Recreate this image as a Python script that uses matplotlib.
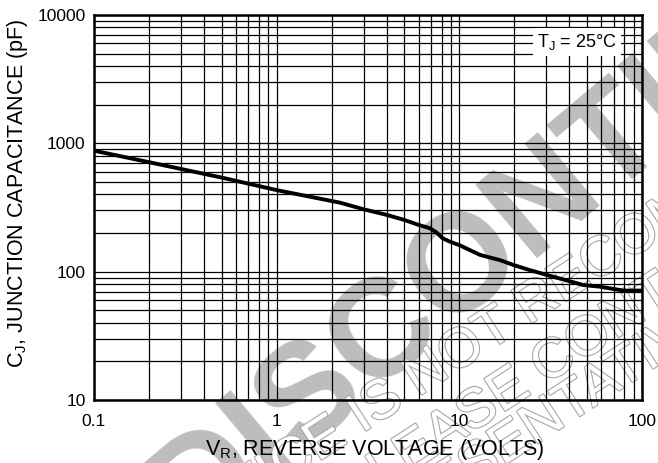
import matplotlib
matplotlib.use("Agg")
import matplotlib.pyplot as plt
import matplotlib.patheffects as pe
from matplotlib.ticker import FixedLocator, NullFormatter
import numpy as np

plt.rcParams['font.family'] = ['Liberation Sans', 'DejaVu Sans']

# data
vr = [0.1, 0.2, 0.5, 1.0, 2.22, 3.0, 4.0, 5.0, 6.0, 6.9, 7.5, 8.1, 9.0, 10.0,
      13.0, 16.7, 19.7, 24.2, 32.6, 47.7, 58.8, 79.0, 100.0]
cj = [877, 713, 541, 432, 345, 306, 277, 253, 231, 218, 202, 182, 170, 161,
      135, 123, 113, 103, 91.4, 78.7, 76.4, 71.2, 71.2]

x_ticks = [0.1, 1, 10, 100]
x_labels = ["0.1", "1", "10", "100"]
y_ticks = [10, 100, 1000, 10000]
y_labels = ["10", "100", "1000", "10000"]

fig = plt.figure(figsize=(6.58, 4.63), dpi=100)
W, H = 658, 463
ax = fig.add_axes([94 / W, 1 - 400 / H, (642 - 94) / W, (400 - 15) / H])
ax.set_zorder(2)
ax.patch.set_visible(False)

ax.set_xscale('log')
ax.set_yscale('log')
ax.set_xlim(0.1, 100)
ax.set_ylim(10, 10000)

# grid at every 1..9 multiple
xg = [m * 10.0 ** e for e in range(-1, 2) for m in range(1, 10)] + [100]
yg = [m * 10.0 ** e for e in range(1, 4) for m in range(1, 10)] + [10000]
for v in xg:
    ax.axvline(v, color='black', lw=0.9, zorder=1)
for v in yg:
    ax.axhline(v, color='black', lw=0.9, zorder=1)

ax.plot(vr, cj, color='black', lw=2.8, zorder=3, solid_capstyle='butt',
        solid_joinstyle='round')

ax.xaxis.set_major_locator(FixedLocator(x_ticks))
ax.set_xticklabels(x_labels)
ax.yaxis.set_major_locator(FixedLocator(y_ticks))
ax.set_yticklabels(y_labels)
ax.xaxis.set_minor_formatter(NullFormatter())
ax.yaxis.set_minor_formatter(NullFormatter())
ax.tick_params(which='both', length=0, labelsize=12.5)
ax.tick_params(axis='x', pad=10)
ax.tick_params(axis='y', pad=6)
for s in ax.spines.values():
    s.set_linewidth(1.8)

ax.set_xlabel(r"V$_\mathregular{R}$, REVERSE VOLTAGE (VOLTS)", fontsize=15.5)
ax.set_ylabel(r"C$_\mathregular{J}$, JUNCTION CAPACITANCE (pF)", fontsize=15.5)
ax.xaxis.set_label_coords(0.513, (400 - 449) / 385)
ax.xaxis.label.set_va('center')
ax.yaxis.set_label_coords((18 - 94) / 548, (400 - 193) / 385)
ax.yaxis.label.set_va('center')

ax.text(0.954, 0.955, r"T$_\mathregular{J}$ = 25°C", transform=ax.transAxes,
        ha='right', va='top', fontsize=13, zorder=5,
        bbox=dict(facecolor='white', edgecolor='none', pad=3))

# watermark
fig.text(192 / W, 1 - 540 / H, "DISCONTINUED", fontsize=100, color='#bdbdbd',
         rotation=40, rotation_mode='anchor', ha='left', va='baseline',
         fontweight='bold', zorder=0)

wm_size = 40
outline = [pe.withStroke(linewidth=1.6, foreground='#a8a8a8')]
ang = 33.0
u = np.array([np.cos(np.radians(ang)), -np.sin(np.radians(ang))])
space = 0.28 * wm_size * 100 / 72
wm_parts = [("THIS DEVICE IS", "NOT RECOMMENDED FOR NEW DESIGN", (418, 397)),
            ("PLEASE", "CONTACT YOUR ON SEMICONDUCTOR", (545, 385)),
            ("REPRES", "ENTATIVE FOR INFORMATION", (503, 466))]
for left, right, (px, py) in wm_parts:
    fig.text(px / W, 1 - py / H, right, fontsize=wm_size, color='white',
             rotation=ang, rotation_mode='anchor', ha='left', va='baseline',
             path_effects=outline, zorder=0)
    if left == "REPRES":
        qx, qy = px, py
    else:
        qx, qy = px - space * u[0], py - space * u[1]
    fig.text(qx / W, 1 - qy / H, left, fontsize=wm_size, color='white',
             rotation=ang, rotation_mode='anchor', ha='right', va='baseline',
             path_effects=outline, zorder=0)

fig.savefig("out.png", dpi=100)
